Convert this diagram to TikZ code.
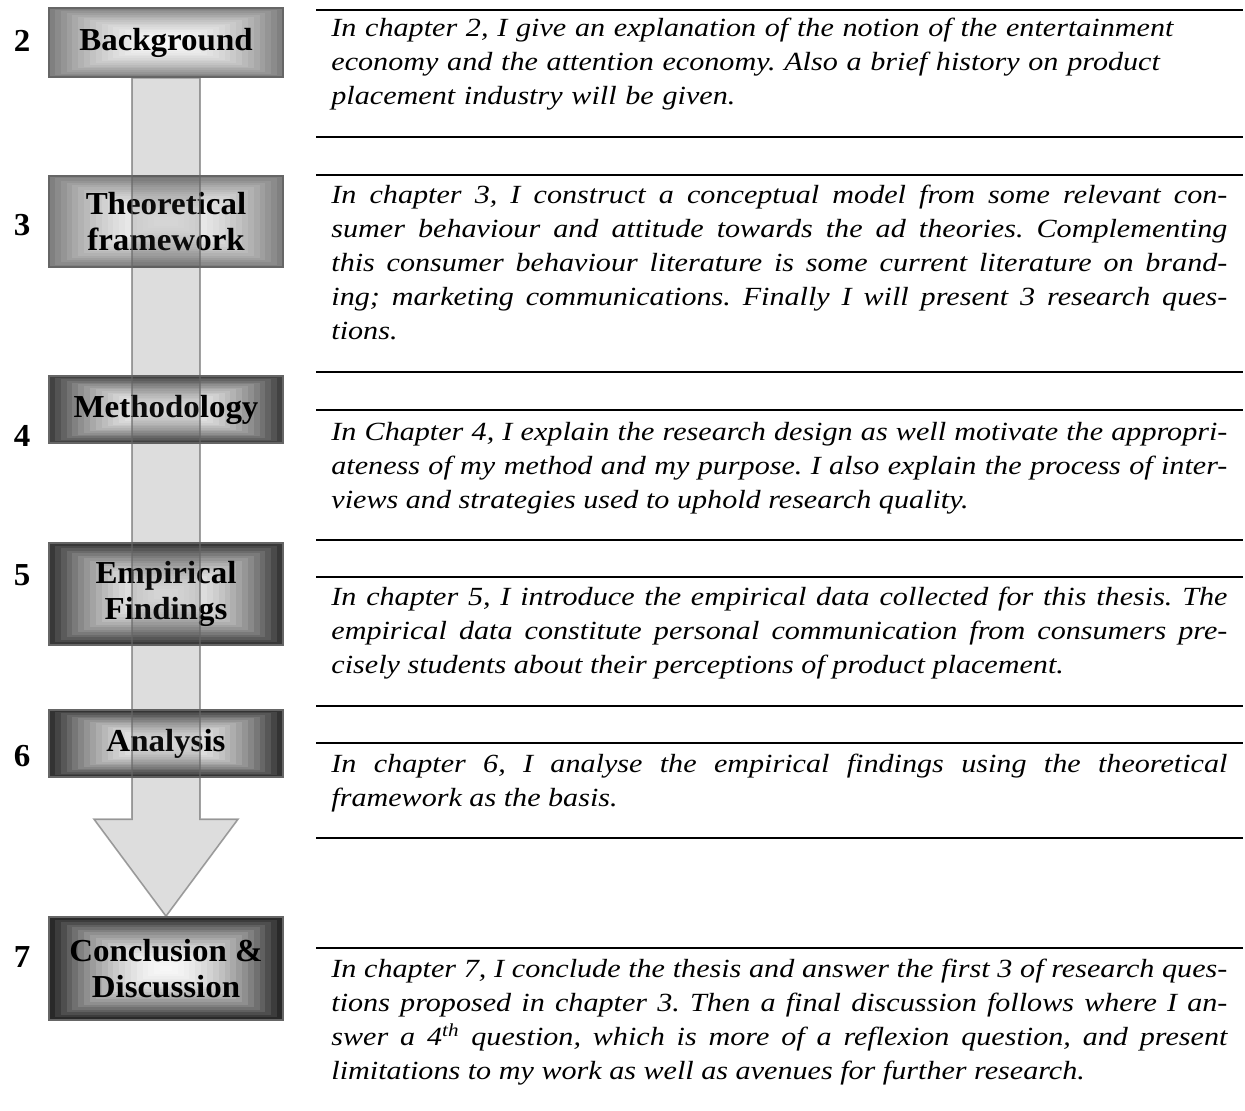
\documentclass[tikz,border=0pt]{standalone}
\usepackage{fontspec}
\setmainfont{Liberation Serif}
\newfontfamily\bodyfont[FakeStretch=1.15]{Liberation Serif}
\newfontfamily\labelfont[FakeStretch=1.03]{Liberation Serif}
\usetikzlibrary{calc}
\hyphenpenalty=10000
\exhyphenpenalty=10000
\frenchspacing

% banded rectangular shading, #1 = darkness of the outer band
\newcommand{\bandfill}[1]{%
  \foreach \k in {0,...,19}{%
    \pgfmathsetmacro{\bandshade}{3+(#1-3)*(1-\k/20)^1.9}%
    \fill[black!\bandshade]
      ($(path picture bounding box.south west)!\k/40!(path picture bounding box.north east)$)
      rectangle
      ($(path picture bounding box.north east)!\k/40!(path picture bounding box.south west)$);
  }%
}

\tikzset{
    chapbox/.style={draw=black!60, line width=0.8pt, minimum width=117pt, inner sep=0pt, align=center,
        font=\labelfont\bfseries\fontsize{16}{18}\selectfont, path picture={\bandfill{#1}}},
    chapnum/.style={inner sep=0pt, font=\labelfont\bfseries\fontsize{16}{18}\selectfont},
    chaptext/.style={anchor=north west, inner sep=0pt, text width=448pt,
        font=\bodyfont\itshape\fontsize{13.1}{17}\selectfont},
    sepline/.style={line width=1pt},
    flowarrow/.style={fill=black!75, fill opacity=0.18, draw=black!60, draw opacity=0.6, line width=0.8pt}
}

\begin{document}
\begin{tikzpicture}[x=0.5pt, y=-0.5pt]
    \useasboundingbox (0,0) rectangle (1245,1110);

    % chapter boxes
    \node[chapbox=50, minimum height=34.5pt] (bg) at (166,42.5) {Background};
    \node[chapbox=50, minimum height=45.5pt] (tf) at (166,221.5) {Theoretical\\framework};
    \node[chapbox=74, minimum height=33.5pt] (me) at (166,409.5) {Methodology};
    \node[chapbox=78, minimum height=51pt] (ef) at (166,594) {Empirical\\Findings};
    \node[chapbox=80, minimum height=33.5pt] (an) at (166,743.5) {Analysis};
    \node[chapbox=84, minimum height=51.5pt] (cd) at (166,968.5) {Conclusion \&\\Discussion};

    % chapter numbers
    \node[chapnum] (n2) at (22,41) {2};
    \node[chapnum] (n3) at (22,225) {3};
    \node[chapnum] (n4) at (22,436) {4};
    \node[chapnum] (n5) at (22,575) {5};
    \node[chapnum] (n6) at (22,756) {6};
    \node[chapnum] (n7) at (22,957) {7};

    % big arrow
    \draw[flowarrow] ($(bg.south)+(-34,0)$) -- ($(cd.north)+(-34,-97)$) -- ($(cd.north)+(-72,-97)$)
        -- (cd.north) -- ($(cd.north)+(72,-97)$) -- ($(cd.north)+(34,-97)$) -- ($(bg.south)+(34,0)$) -- cycle;

    % rules
    \foreach \ry in {10,137,175,372,410,540,577,706,743,838,948}
        \draw[sepline] (316,\ry) -- (1243,\ry);

    % descriptions
    \node[chaptext, align=left] (t2) at (331,12) {\strut In chapter 2, I give an explanation of the notion of the entertainment\\
        economy and the attention economy. Also a brief history on product\\
        placement industry will be given.};
    \node[chaptext, align=justify] (t3) at (331,179) {\strut In chapter 3, I construct a conceptual model from some relevant con-\linebreak
        sumer behaviour and attitude towards the ad theories. Complementing\linebreak
        this consumer behaviour literature is some current literature on brand-\linebreak
        ing; marketing communications. Finally I will present 3 research ques-\linebreak
        tions.};
    \node[chaptext, align=justify] (t4) at (331,416) {\strut In Chapter 4, I explain the research design as well motivate the appropri-\linebreak
        ateness of my method and my purpose. I also explain the process of inter-\linebreak
        views and strategies used to uphold research quality.};
    \node[chaptext, align=justify] (t5) at (331,581) {\strut In chapter 5, I introduce the empirical data collected for this thesis. The\linebreak
        empirical data constitute personal communication from consumers pre-\linebreak
        cisely students about their perceptions of product placement.};
    \node[chaptext, align=justify] (t6) at (331,748) {\strut In chapter 6, I analyse the empirical findings using the theoretical\linebreak
        framework as the basis.};
    \node[chaptext, align=justify] (t7) at (331,953) {\strut In chapter 7, I conclude the thesis and answer the first 3 of research ques-\linebreak
        tions proposed in chapter 3. Then a final discussion follows where I an-\linebreak
        swer a 4\textsuperscript{th} question, which is more of a reflexion question, and present\linebreak
        limitations to my work as well as avenues for further research.};
\end{tikzpicture}
\end{document}
